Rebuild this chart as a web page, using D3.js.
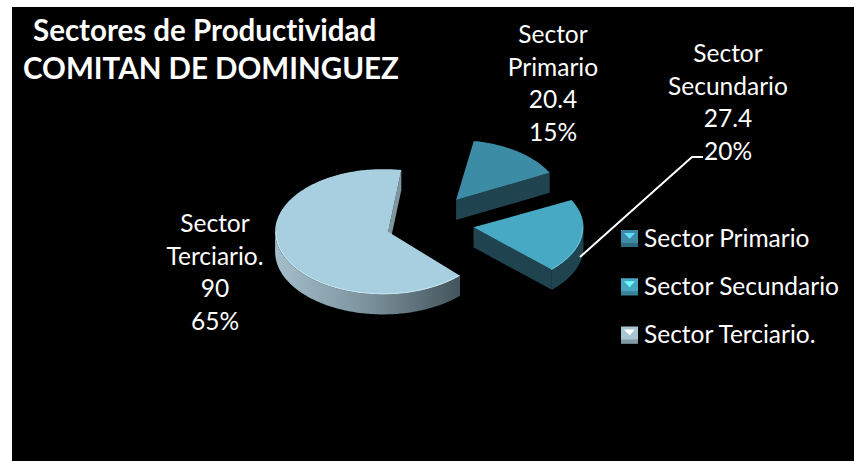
<!DOCTYPE html>
<html><head><meta charset="utf-8">
<script src="https://cdn.jsdelivr.net/npm/d3@7"></script>
<style>html,body{margin:0;padding:0;background:#fff}svg{display:block}text{font-family:Lato,sans-serif;fill:#fff;font-variant-ligatures:none}</style>
</head><body><svg id="c" width="854" height="461"></svg>
<script>
const categories = ["Sector Primario", "Sector Secundario", "Sector Terciario."];
const values = [20.4, 27.4, 90];
const valueLabels = ["20.4", "27.4", "90"];
const percents = ["15%", "20%", "65%"];
const labelLines = [["Sector","Primario"],["Sector","Secundario"],["Sector","Terciario."]];
const titleLines = ["Sectores de Productividad", "COMITAN DE DOMINGUEZ"];
const topColors = ["#3d8ca6", "#47a9c4", "#a8cfdf"];
const wallColors = ["#1f4450", "#1f4450", "#7f969f"];
const swatchColors = ["#3c8aa3", "#46a7c2", "#a5c5d3"];

const W=854,H=461, svg=d3.select("#c");
svg.append("rect").attr("x",12).attr("y",7).attr("width",W-12).attr("height",H-7).attr("fill","#000");

const deg=Math.PI/180, cx=430, cy=223, explodeTilt=0.65, depth=20, explode=44;
const radii=[105,110,108];
const tilts=[0.57,0.55,0.58];
const rimShift=[0,0,-5];
const pie=d3.pie().sort(null).startAngle(9.7*deg).endAngle(369.7*deg);
const arcs=pie(values);
const defs=svg.append("defs");
const g=defs.append("linearGradient").attr("id","wall3").attr("gradientUnits","userSpaceOnUse")
  .attr("x1",275).attr("x2",461).attr("y1",0).attr("y2",0);
[[0,"#a3bfca"],[0.5,"#7b929c"],[1,"#43545b"]].forEach(s=>g.append("stop").attr("offset",s[0]).attr("stop-color",s[1]));

const line=d3.line();
arcs.forEach((a,i)=>{
  const mid=(a.startAngle+a.endAngle)/2, r=radii[i];
  const ax=cx+explode*Math.sin(mid), ay=cy-explode*Math.cos(mid)*explodeTilt;
  const P=(t,rr=r,dz=0)=>[ax+rimShift[i]+rr*Math.sin(t), ay-rr*Math.cos(t)*tilts[i]+dz];
  const layer=svg.append("g");
  const angles=(s,e)=>d3.range(s,e,deg).concat([e]);
  // cut faces that look toward the viewer
  [[a.startAngle,-1],[a.endAngle,1]].forEach(([t,sign])=>{
    if(sign*Math.sin(t)>0) layer.append("path").attr("fill",wallColors[i])
      .attr("d",line([[ax,ay],P(t),P(t,r,depth),[ax,ay+depth]])+"Z");
  });
  // outer wall on the front half
  const from=Math.max(a.startAngle,90*deg), to=Math.min(a.endAngle,270*deg);
  if(to>from){
    const ts=angles(from,to);
    layer.append("path").attr("fill",i===2?"url(#wall3)":wallColors[i])
      .attr("d",line(ts.map(t=>P(t)).concat(ts.slice().reverse().map(t=>P(t,r,depth))))+"Z");
  }
  // top face
  layer.append("path").attr("fill",topColors[i])
    .attr("d",line([[ax,ay]].concat(angles(a.startAngle,a.endAngle).map(t=>P(t))))+"Z");
  // rim highlight
  if(to>from){
    layer.append("path").attr("fill","none").attr("stroke",i===2?"#d4eef8":"#7cc6da")
      .attr("stroke-width",1).attr("opacity",0.8)
      .attr("d",line(angles(from,to).map(t=>P(t,r-1))));
  }
});

// leader line
svg.append("path").attr("fill","none").attr("stroke","#fff").attr("stroke-width",2)
  .attr("d",line([[580,257],[692,157],[703,157]]));

// data labels
const labelPos=[[553,43],[728,62],[215,232]], lh=32.5;
arcs.forEach((a,i)=>{
  const rows=[...labelLines[i],valueLabels[i],percents[i]];
  svg.append("g").selectAll("text").data(rows).join("text")
    .attr("x",labelPos[i][0]).attr("y",(d,k)=>labelPos[i][1]+k*lh)
    .attr("text-anchor","middle").attr("font-size",24.5).text(d=>d);
});

// title
const titleX=[33,23];
svg.append("g").selectAll("text").data(titleLines).join("text")
  .attr("x",(d,k)=>titleX[k]).attr("y",(d,k)=>41+k*38)
  .attr("font-size",29.5).attr("font-weight",700).text(d=>d);

// legend
const ly=d3.scalePoint().domain(categories).range([238.5,335]);
categories.forEach((c,i)=>{
  const y=ly(c), x0=621, s=17, t=y-s/2, G=svg.append("g"), col=d3.color(swatchColors[i]);
  G.append("rect").attr("x",x0).attr("y",t).attr("width",s).attr("height",s).attr("fill",col);
  G.append("rect").attr("x",x0).attr("y",t+s-4).attr("width",s).attr("height",4).attr("fill",col.darker(0.7));
  G.append("path").attr("fill",col.brighter(1.3)).attr("d",line([[x0+3,t+3],[x0+s-3,t+3],[x0+s/2,t+9]])+"Z");
  svg.append("text").attr("x",644).attr("y",y+8).attr("font-size",24.5).text(c);
});
</script></body></html>
